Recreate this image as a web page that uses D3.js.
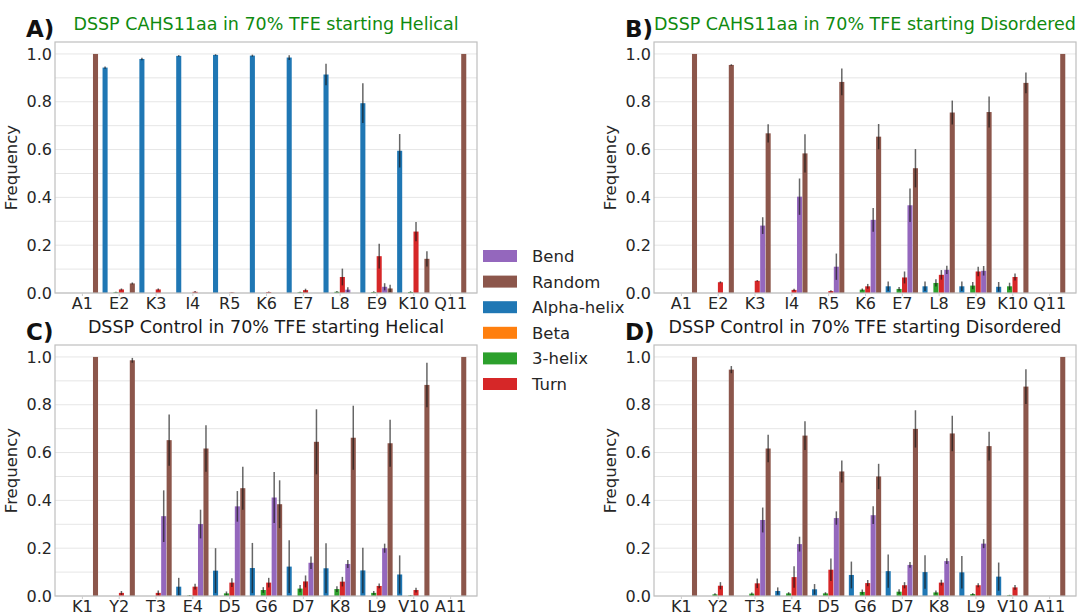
<!DOCTYPE html>
<html>
<head>
<meta charset="utf-8">
<script src="https://cdn.jsdelivr.net/npm/d3@7"></script>
<style>
  html, body { margin: 0; padding: 0; background: #fff; }
  svg { display: block; font-family: "DejaVu Sans", sans-serif; }
</style>
</head>
<body>
<svg id="chart" width="1079" height="613"></svg>
<script>
// ---------------- DATA ----------------
const residuesCAHS = ["A1","E2","K3","I4","R5","K6","E7","L8","E9","K10","Q11"];
const residuesCtrl = ["K1","Y2","T3","E4","D5","G6","D7","K8","L9","V10","A11"];
// order of bars inside each residue group
const structureTypes = ["Alpha-helix","Beta","3-helix","Turn","Bend","Random"];
const legendOrder = ["Bend","Random","Alpha-helix","Beta","3-helix","Turn"];
const yTicks = [0, 0.2, 0.4, 0.6, 0.8, 1.0];

// Panel A: CAHS11aa, starting Helical
const aAlpha    = [0, 0.943, 0.979, 0.992, 0.996, 0.993, 0.985, 0.914, 0.794, 0.595, 0];
const aAlphaErr = [0, 0.005, 0.005, 0.003, 0.003, 0.004, 0.010, 0.045, 0.083, 0.070, 0];
const aBeta     = [0, 0, 0, 0, 0, 0, 0, 0, 0, 0, 0];
const aBetaErr  = [0, 0, 0, 0, 0, 0, 0, 0, 0, 0, 0];
const aHelix3   = [0, 0.003, 0, 0, 0, 0, 0.003, 0.005, 0.004, 0.004, 0];
const aHelix3Err= [0, 0.002, 0, 0, 0, 0, 0.002, 0.003, 0.003, 0.003, 0];
const aTurn     = [0, 0.015, 0.015, 0.005, 0.002, 0.004, 0.012, 0.067, 0.154, 0.257, 0];
const aTurnErr  = [0, 0.004, 0.004, 0.003, 0.001, 0.002, 0.006, 0.035, 0.052, 0.040, 0];
const aBend     = [0, 0, 0, 0, 0, 0, 0, 0.014, 0.026, 0, 0];
const aBendErr  = [0, 0, 0, 0, 0, 0, 0, 0.010, 0.015, 0, 0];
const aRandom   = [1, 0.040, 0, 0, 0, 0, 0, 0, 0.019, 0.143, 1];
const aRandomErr= [0, 0.004, 0, 0, 0, 0, 0, 0, 0.015, 0.032, 0];

// Panel B: CAHS11aa, starting Disordered
const bAlpha    = [0, 0, 0, 0, 0, 0, 0.028, 0.028, 0.028, 0.026, 0];
const bAlphaErr = [0, 0, 0, 0, 0, 0, 0.020, 0.020, 0.020, 0.020, 0];
const bBeta     = [0, 0, 0, 0, 0, 0, 0, 0, 0, 0, 0];
const bBetaErr  = [0, 0, 0, 0, 0, 0, 0, 0, 0, 0, 0];
const bHelix3   = [0, 0, 0, 0, 0, 0.014, 0.017, 0.042, 0.031, 0.028, 0];
const bHelix3Err= [0, 0, 0, 0, 0, 0.005, 0.008, 0.015, 0.015, 0.015, 0];
const bTurn     = [0, 0.045, 0.051, 0.013, 0.008, 0.028, 0.065, 0.076, 0.090, 0.067, 0];
const bTurnErr  = [0, 0.004, 0.003, 0.005, 0.003, 0.010, 0.025, 0.020, 0.020, 0.015, 0];
const bBend     = [0, 0, 0.282, 0.403, 0.110, 0.306, 0.367, 0.097, 0.093, 0, 0];
const bBendErr  = [0, 0, 0.035, 0.076, 0.055, 0.050, 0.070, 0.017, 0.020, 0, 0];
const bRandom   = [1, 0.954, 0.668, 0.584, 0.883, 0.654, 0.522, 0.755, 0.757, 0.879, 1];
const bRandomErr= [0, 0.003, 0.038, 0.080, 0.056, 0.053, 0.080, 0.050, 0.065, 0.043, 0];

// Panel C: Control, starting Helical
const cAlpha    = [0, 0, 0, 0.039, 0.106, 0.117, 0.123, 0.116, 0.107, 0.090, 0];
const cAlphaErr = [0, 0, 0, 0.037, 0.094, 0.105, 0.110, 0.105, 0.095, 0.080, 0];
const cBeta     = [0, 0, 0, 0, 0, 0, 0, 0, 0, 0, 0];
const cBetaErr  = [0, 0, 0, 0, 0, 0, 0, 0, 0, 0, 0];
const cHelix3   = [0, 0, 0, 0.002, 0.011, 0.025, 0.031, 0.029, 0.013, 0.002, 0];
const cHelix3Err= [0, 0, 0, 0.002, 0.008, 0.012, 0.015, 0.012, 0.008, 0.002, 0];
const cTurn     = [0, 0.013, 0.013, 0.039, 0.056, 0.056, 0.061, 0.060, 0.042, 0.025, 0];
const cTurnErr  = [0, 0.008, 0.010, 0.012, 0.018, 0.020, 0.025, 0.020, 0.010, 0.010, 0];
const cBend     = [0, 0, 0.334, 0.301, 0.375, 0.412, 0.139, 0.134, 0.200, 0, 0];
const cBendErr  = [0, 0, 0.108, 0.060, 0.064, 0.107, 0.026, 0.017, 0.019, 0, 0];
const cRandom   = [1, 0.986, 0.652, 0.617, 0.451, 0.384, 0.645, 0.662, 0.639, 0.883, 1];
const cRandomErr= [0, 0.010, 0.107, 0.097, 0.090, 0.100, 0.136, 0.134, 0.098, 0.093, 0];

// Panel D: Control, starting Disordered
const dAlpha    = [0, 0, 0, 0.021, 0.028, 0.088, 0.104, 0.100, 0.099, 0.081, 0];
const dAlphaErr = [0, 0, 0, 0.015, 0.022, 0.056, 0.070, 0.070, 0.068, 0.059, 0];
const dBeta     = [0, 0, 0, 0, 0, 0, 0, 0, 0, 0, 0];
const dBetaErr  = [0, 0, 0, 0, 0, 0, 0, 0, 0, 0, 0];
const dHelix3   = [0, 0.007, 0.010, 0.011, 0.011, 0.017, 0.018, 0.015, 0.008, 0.003, 0];
const dHelix3Err= [0, 0.004, 0.005, 0.005, 0.005, 0.010, 0.010, 0.008, 0.004, 0.002, 0];
const dTurn     = [0, 0.043, 0.053, 0.079, 0.110, 0.054, 0.045, 0.056, 0.045, 0.036, 0];
const dTurnErr  = [0, 0.015, 0.020, 0.045, 0.047, 0.013, 0.013, 0.012, 0.008, 0.010, 0];
const dBend     = [0, 0, 0.318, 0.217, 0.326, 0.338, 0.130, 0.146, 0.219, 0, 0];
const dBendErr  = [0, 0, 0.052, 0.031, 0.028, 0.037, 0.012, 0.012, 0.019, 0, 0];
const dRandom   = [1, 0.947, 0.617, 0.671, 0.521, 0.500, 0.699, 0.680, 0.627, 0.876, 1];
const dRandomErr= [0, 0.015, 0.058, 0.060, 0.046, 0.053, 0.078, 0.074, 0.060, 0.073, 0];

// ---------------- STYLE / LAYOUT ----------------
const colors = {
  "Alpha-helix": "#1f77b4", "Beta": "#ff7f0e", "3-helix": "#2ca02c",
  "Turn": "#d62728", "Bend": "#9467bd", "Random": "#8c564b"
};

const panels = [
  { tag: "A)", title: "DSSP CAHS11aa in 70% TFE starting Helical", titleColor: "#0f8a0f",
    left: 55, top: 42, residues: residuesCAHS,
    values: [aAlpha, aBeta, aHelix3, aTurn, aBend, aRandom],
    errors: [aAlphaErr, aBetaErr, aHelix3Err, aTurnErr, aBendErr, aRandomErr] },
  { tag: "B)", title: "DSSP CAHS11aa in 70% TFE starting Disordered", titleColor: "#0f8a0f",
    left: 654, top: 42, residues: residuesCAHS,
    values: [bAlpha, bBeta, bHelix3, bTurn, bBend, bRandom],
    errors: [bAlphaErr, bBetaErr, bHelix3Err, bTurnErr, bBendErr, bRandomErr] },
  { tag: "C)", title: "DSSP Control in 70% TFE starting Helical", titleColor: "#1a1a1a",
    left: 55, top: 345, residues: residuesCtrl,
    values: [cAlpha, cBeta, cHelix3, cTurn, cBend, cRandom],
    errors: [cAlphaErr, cBetaErr, cHelix3Err, cTurnErr, cBendErr, cRandomErr] },
  { tag: "D)", title: "DSSP Control in 70% TFE starting Disordered", titleColor: "#1a1a1a",
    left: 654, top: 345, residues: residuesCtrl,
    values: [dAlpha, dBeta, dHelix3, dTurn, dBend, dRandom],
    errors: [dAlphaErr, dBetaErr, dHelix3Err, dTurnErr, dBendErr, dRandomErr] }
];

const W = 422, H = 251;
const svg = d3.select("#chart");
svg.append("rect").attr("width", 1079).attr("height", 613).attr("fill", "#fff");

panels.forEach(p => {
  const g = svg.append("g").attr("transform", `translate(${p.left},${p.top})`);
  const x = d3.scalePoint().domain(p.residues).range([0, W]).padding(0.73);
  const y = d3.scaleLinear().domain([0, 1.05]).range([H, 0]);
  const step = x.step();
  const barStep = step * 0.148;
  const barW = barStep * 0.93;

  // grid
  g.append("g").selectAll("line").data(d3.range(0, 1.01, 0.1)).join("line")
    .attr("x1", 0).attr("x2", W)
    .attr("y1", d => y(d)).attr("y2", d => y(d))
    .attr("stroke", "#e6e6e6").attr("stroke-width", 1);

  // bars
  const rows = [];
  structureTypes.forEach((t, si) => {
    p.residues.forEach((r, ri) => {
      rows.push({ type: t, si, res: r, v: p.values[si][ri], e: p.errors[si][ri] });
    });
  });
  const cx = d => x(d.res) + (d.si - 2.5) * barStep;

  g.append("g").selectAll("rect").data(rows.filter(d => d.v > 0)).join("rect")
    .attr("x", d => cx(d) - barW / 2)
    .attr("width", barW)
    .attr("y", d => y(d.v))
    .attr("height", d => y(0) - y(d.v))
    .attr("fill", d => colors[d.type]);

  g.append("g").selectAll("line").data(rows.filter(d => d.e > 0)).join("line")
    .attr("x1", cx).attr("x2", cx)
    .attr("y1", d => y(Math.max(0, d.v - d.e)))
    .attr("y2", d => y(d.v + d.e))
    .attr("stroke", "rgba(20,20,20,0.65)").attr("stroke-width", 1.5);

  // frame
  g.append("rect").attr("width", W).attr("height", H)
    .attr("fill", "none").attr("stroke", "#bfbfbf").attr("stroke-width", 1.2);

  // axes
  const xa = g.append("g").attr("transform", `translate(0,${H})`)
    .call(d3.axisBottom(x).tickSizeInner(3).tickSizeOuter(0).tickPadding(1.5));
  xa.select(".domain").remove();
  xa.selectAll("line").attr("stroke", "#cccccc");
  xa.selectAll("text").attr("font-size", 16).attr("fill", "#262626")
    .attr("font-family", "DejaVu Sans");

  const ya = g.append("g")
    .call(d3.axisLeft(y).tickValues(yTicks).tickFormat(d3.format(".1f"))
      .tickSize(0).tickPadding(3));
  ya.select(".domain").remove();
  ya.selectAll("text").attr("font-size", 16).attr("fill", "#262626")
    .attr("font-family", "DejaVu Sans");

  // y label
  g.append("text")
    .attr("transform", `translate(${-38},${H / 2}) rotate(-90)`)
    .attr("text-anchor", "middle").attr("font-size", 16.5).attr("fill", "#262626")
    .text("Frequency");

  // title
  g.append("text").attr("x", W / 2).attr("y", -12)
    .attr("text-anchor", "middle").attr("font-size", 17.5)
    .attr("fill", p.titleColor).text(p.title);

  // panel tag
  g.append("text").attr("x", -29).attr("y", -5)
    .attr("font-size", 23).attr("font-weight", "bold").attr("fill", "#111")
    .text(p.tag);
});

// legend
const lg = svg.append("g").attr("transform", "translate(483,256)");
legendOrder.forEach((t, i) => {
  const row = lg.append("g").attr("transform", `translate(0,${i * 25.6})`);
  row.append("rect").attr("x", 0).attr("y", -6).attr("width", 34).attr("height", 12)
    .attr("fill", colors[t]);
  row.append("text").attr("x", 49).attr("y", 6).attr("font-size", 16.5)
    .attr("fill", "#262626").text(t);
});
</script>
</body>
</html>
